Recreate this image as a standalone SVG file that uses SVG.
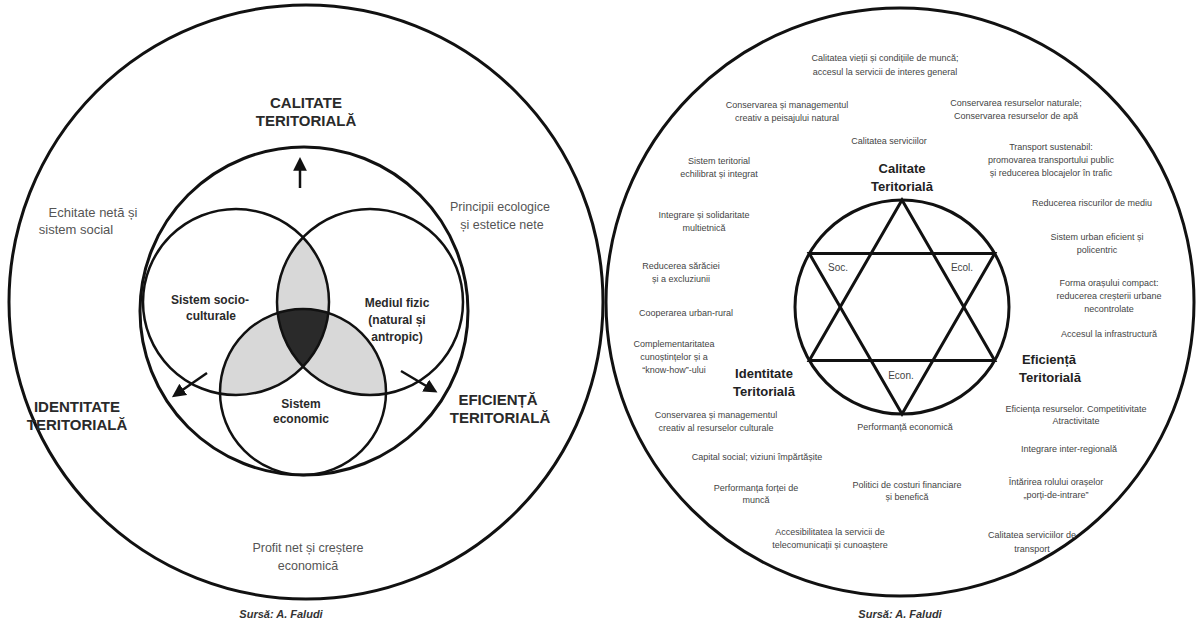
<svg xmlns="http://www.w3.org/2000/svg" width="1196" height="624" viewBox="0 0 1196 624">
<style>
.ring{fill:none;stroke:#111;stroke-width:3}
.venn{fill:none;stroke:#111;stroke-width:2.5}
.star{fill:none;stroke:#111;stroke-width:3;stroke-linejoin:miter}
.lbl{font-family:"Liberation Sans",Arial,sans-serif;font-weight:bold;font-size:15px;fill:#2a2a2a;text-anchor:middle}
.in{font-family:"Liberation Sans",Arial,sans-serif;font-weight:bold;font-size:12px;fill:#2a2a2a;text-anchor:middle}
.note{font-family:"Liberation Sans",Arial,sans-serif;font-size:12.5px;fill:#555;text-anchor:middle}
.sm{font-family:"Liberation Sans",Arial,sans-serif;font-size:9px;fill:#444;text-anchor:middle}
.tag{font-family:"Liberation Sans",Arial,sans-serif;font-size:10px;fill:#444;text-anchor:middle}
.rl{font-family:"Liberation Sans",Arial,sans-serif;font-weight:bold;font-size:13px;fill:#222;text-anchor:middle}
.src{font-family:"Liberation Sans",Arial,sans-serif;font-weight:bold;font-style:italic;font-size:11px;fill:#333;text-anchor:middle}
.arr{stroke:#111;stroke-width:2.5;fill:none;marker-end:url(#ah)}
.g1{fill:#d8d8d8}
.g2{fill:#2a2a2a}
</style>
<defs>
<marker id="ah" viewBox="0 0 10 10" refX="2" refY="5" markerWidth="5.5" markerHeight="5.5" orient="auto" markerUnits="strokeWidth">
<path d="M0,0 L10,5 L0,10 z" fill="#111"/>
</marker>
<clipPath id="cL"><circle cx="236" cy="302" r="93"/></clipPath>
<clipPath id="cR"><circle cx="370" cy="302" r="93"/></clipPath>
</defs>

<!-- LEFT PANEL -->
<g id="left-outer"><circle class="ring" cx="306" cy="302" r="297"/></g>
<g id="left-enclosing"><circle class="ring" cx="304" cy="311" r="164"/></g>

<g id="venn-fills">
  <g clip-path="url(#cL)"><circle class="g1" cx="370" cy="302" r="93"/></g>
  <g clip-path="url(#cL)"><circle class="g1" cx="303" cy="392" r="83"/></g>
  <g clip-path="url(#cR)"><circle class="g1" cx="303" cy="392" r="83"/></g>
  <g clip-path="url(#cL)"><g clip-path="url(#cR)"><circle class="g2" cx="303" cy="392" r="83"/></g></g>
</g>

<g id="sistem-socio"><circle class="venn" cx="236" cy="302" r="93"/>
  <text class="in" x="210" y="304">Sistem socio-</text><text class="in" x="211" y="320">culturale</text></g>
<g id="mediul-fizic"><circle class="venn" cx="370" cy="302" r="93"/>
  <text class="in" x="397" y="307">Mediul fizic</text><text class="in" x="397" y="324">(natural și</text><text class="in" x="397" y="341">antropic)</text></g>
<g id="sistem-economic"><circle class="venn" cx="303" cy="392" r="83"/>
  <text class="in" x="301" y="408">Sistem</text><text class="in" x="301" y="423">economic</text></g>

<g id="connectors">
  <line class="arr" x1="300" y1="188" x2="300" y2="168"/>
  <line class="arr" x1="207" y1="373" x2="181" y2="391"/>
  <line class="arr" x1="401" y1="371" x2="428" y2="387"/>
</g>

<g id="calitate-teritoriala"><text class="lbl" x="306" y="108">CALITATE</text><text class="lbl" x="306" y="126">TERITORIALĂ</text></g>
<g id="identitate-teritoriala"><text class="lbl" x="77" y="412">IDENTITATE</text><text class="lbl" x="77" y="430">TERITORIALĂ</text></g>
<g id="eficienta-teritoriala"><text class="lbl" x="498" y="405">EFICIENȚĂ</text><text class="lbl" x="500" y="423">TERITORIALĂ</text></g>
<g id="echitate"><text class="note" x="93" y="217" style="font-size:13px">Echitate netă și</text><text class="note" x="76" y="234" style="font-size:13px">sistem social</text></g>
<g id="principii"><text class="note" x="500" y="211">Principii ecologice</text><text class="note" x="502" y="229">și estetice nete</text></g>
<g id="profit"><text class="note" x="308" y="552">Profit net și creștere</text><text class="note" x="308" y="570">economică</text></g>
<g id="sursa-left"><text class="src" x="281" y="618">Sursă: A. Faludi</text></g>

<!-- RIGHT PANEL -->
<g id="right-outer"><circle class="ring" cx="900" cy="302" r="294"/></g>
<g id="hexagram">
  <circle class="ring" cx="902" cy="307" r="107"/>
  <polygon class="star" points="902,200 809.3,360.5 994.7,360.5"/>
  <polygon class="star" points="902,414 809.3,253.5 994.7,253.5"/>
  <text class="tag" x="838" y="271">Soc.</text>
  <text class="tag" x="962" y="271">Ecol.</text>
  <text class="tag" x="901" y="379">Econ.</text>
</g>

<g id="r-calitate"><text class="rl" x="902" y="173">Calitate</text><text class="rl" x="902" y="191">Teritorială</text></g>
<g id="r-identitate"><text class="rl" x="764" y="378">Identitate</text><text class="rl" x="764" y="396">Teritorială</text></g>
<g id="r-eficienta"><text class="rl" x="1049" y="364">Eficiență</text><text class="rl" x="1050" y="382">Teritorială</text></g>

<g id="t1"><text class="sm" x="885" y="61">Calitatea vieții și condițiile de muncă;</text><text class="sm" x="885" y="75">accesul la servicii de interes general</text></g>
<g id="t2"><text class="sm" x="787" y="108">Conservarea și managementul</text><text class="sm" x="787" y="121">creativ a peisajului natural</text></g>
<g id="t3"><text class="sm" x="1016" y="106">Conservarea resurselor naturale;</text><text class="sm" x="1016" y="119">Conservarea resurselor de apă</text></g>
<g id="t4"><text class="sm" x="889" y="144">Calitatea serviciilor</text></g>
<g id="t5"><text class="sm" x="1051" y="150">Transport sustenabil:</text><text class="sm" x="1051" y="163">promovarea transportului public</text><text class="sm" x="1051" y="176">și reducerea blocajelor în trafic</text></g>
<g id="t6"><text class="sm" x="719" y="164">Sistem teritorial</text><text class="sm" x="719" y="177">echilibrat și integrat</text></g>
<g id="t7"><text class="sm" x="1092" y="206">Reducerea riscurilor de mediu</text></g>
<g id="t8"><text class="sm" x="704" y="218">Integrare și solidaritate</text><text class="sm" x="704" y="231">multietnică</text></g>
<g id="t9"><text class="sm" x="1097" y="240">Sistem urban eficient și</text><text class="sm" x="1097" y="253">policentric</text></g>
<g id="t10"><text class="sm" x="681" y="269">Reducerea sărăciei</text><text class="sm" x="681" y="282">și a excluziunii</text></g>
<g id="t11"><text class="sm" x="1109" y="286">Forma orașului compact:</text><text class="sm" x="1109" y="299">reducerea creșterii urbane</text><text class="sm" x="1109" y="312">necontrolate</text></g>
<g id="t12"><text class="sm" x="686" y="316">Cooperarea urban-rural</text></g>
<g id="t13"><text class="sm" x="1109" y="337">Accesul la infrastructură</text></g>
<g id="t14"><text class="sm" x="674" y="347">Complementaritatea</text><text class="sm" x="674" y="360">cunoștințelor și a</text><text class="sm" x="674" y="373">“know-how”-ului</text></g>
<g id="t15"><text class="sm" x="716" y="418">Conservarea și managementul</text><text class="sm" x="716" y="431">creativ al resurselor culturale</text></g>
<g id="t16"><text class="sm" x="905" y="430">Performanță economică</text></g>
<g id="t17"><text class="sm" x="1076" y="412">Eficiența resurselor. Competitivitate</text><text class="sm" x="1076" y="424">Atractivitate</text></g>
<g id="t18"><text class="sm" x="757" y="460">Capital social; viziuni împărtășite</text></g>
<g id="t19"><text class="sm" x="1069" y="452">Integrare inter-regională</text></g>
<g id="t20"><text class="sm" x="756" y="491">Performanța forței de</text><text class="sm" x="756" y="503">muncă</text></g>
<g id="t21"><text class="sm" x="907" y="488">Politici de costuri financiare</text><text class="sm" x="907" y="500">și benefică</text></g>
<g id="t22"><text class="sm" x="1056" y="485">Întărirea rolului orașelor</text><text class="sm" x="1056" y="498">„porți-de-intrare”</text></g>
<g id="t23"><text class="sm" x="830" y="535">Accesibilitatea la servicii de</text><text class="sm" x="830" y="548">telecomunicații și cunoaștere</text></g>
<g id="t24"><text class="sm" x="1032" y="538">Calitatea serviciilor de</text><text class="sm" x="1032" y="552">transport</text></g>
<g id="sursa-right"><text class="src" x="900" y="618">Sursă: A. Faludi</text></g>
</svg>
